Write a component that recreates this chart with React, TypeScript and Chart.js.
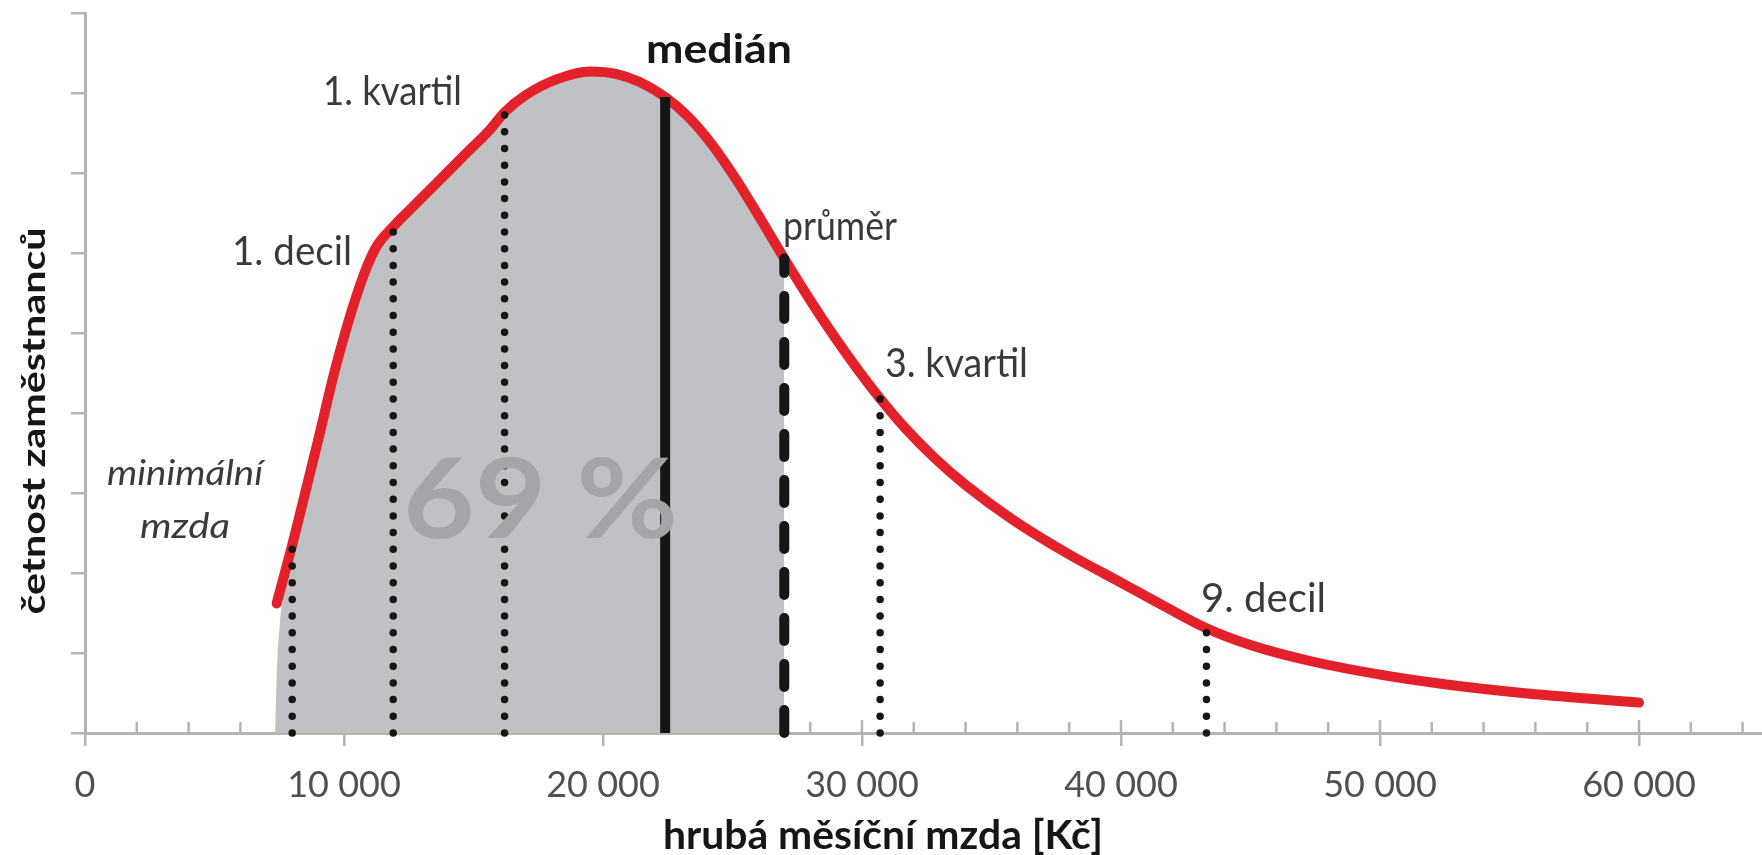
import React, { useEffect, useRef } from "react";
import { Chart, registerables } from "chart.js";

Chart.register(...registerables);

// ---- data ----
// gross monthly wage (Kč) and relative frequency of employees (arbitrary units 0..9)
const wage = [
  7400, 8000, 8500, 9000, 9700, 10600, 11200, 11900, 12600, 13500, 14700, 15600,
  16200, 17000, 18200, 19500, 20500, 21400, 22400, 23300, 24200, 25100, 26000,
  27000, 28000, 28900, 29800, 30700, 31700, 32800, 34000, 35800, 37900, 40000,
  41700, 43300, 45000, 47300, 50000, 52500, 55500, 58000, 60000,
];
const frequency = [
  1.62, 2.35, 3.0, 3.66, 4.6, 5.58, 6.05, 6.33, 6.56, 6.85, 7.24, 7.53,
  7.76, 7.97, 8.17, 8.27, 8.24, 8.14, 7.95, 7.7, 7.36, 6.94, 6.47,
  5.93, 5.41, 4.97, 4.56, 4.18, 3.8, 3.44, 3.1, 2.67, 2.25, 1.88,
  1.58, 1.31, 1.1, 0.9, 0.73, 0.61, 0.5, 0.43, 0.38,
];
// foot of the grey area below the start of the red curve
const fillFootWage = [7340, 7400, 7520, 7800];
const fillFootLevel = [0, 0.7, 1.35, 1.95];

// statistics marked with vertical lines
const markerNames = ["minimální mzda", "1. decil", "1. kvartil", "medián", "průměr", "3. kvartil", "9. decil"];
const markerWage = [8000, 11900, 16200, 22400, 27000, 30700, 43300];

const shareLabel = "69 %";

const tickValues = [0, 10000, 20000, 30000, 40000, 50000, 60000];
const tickLabels = ["0", "10 000", "20 000", "30 000", "40 000", "50 000", "60 000"];
const minorStep = 2000;
const axisMax = 64750;

const xTitle = "hrubá měsíční mzda [Kč]";
const yTitle = "četnost zaměstnanců";

// ---- styles ----
const AXIS = "#b4b4b4";
const RED = "#e3212b";
const GREY = "#c0c1c4";
const INK = "#161616";
const LABEL = "#3a3a3c";

function fitText(
  ctx: CanvasRenderingContext2D,
  text: string,
  x: number,
  y: number,
  width: number,
  align: "left" | "center",
  font: string,
  color: string
) {
  ctx.save();
  ctx.font = font;
  ctx.fillStyle = color;
  ctx.textBaseline = "alphabetic";
  ctx.textAlign = "left";
  const w = ctx.measureText(text).width || 1;
  const s = width / w;
  const left = align === "center" ? x - width / 2 : x;
  ctx.translate(left, y);
  ctx.scale(s, 1);
  ctx.fillText(text, 0, 0);
  ctx.restore();
}

export default function App() {
  const ref = useRef<HTMLCanvasElement | null>(null);

  useEffect(() => {
    document.body.style.margin = "0";
    const canvas = ref.current;
    if (!canvas) return;

    const curve = wage.map((x, i) => ({ x, y: frequency[i] }));
    const heightAt = (w: number) => frequency[wage.indexOf(w)];
    const meanWage = markerWage[markerNames.indexOf("průměr")];
    const fillPts = [
      ...fillFootWage.map((x, i) => ({ x, y: fillFootLevel[i] })),
      ...curve.filter((p) => p.x >= 8000 && p.x <= meanWage),
    ];

    const markerSets = markerWage.map((w, i) => {
      const name = markerNames[i];
      const kind = name === "medián" ? "solid" : name === "průměr" ? "dash" : "dot";
      return {
        label: name,
        data: [
          { x: w, y: 0 },
          { x: w, y: heightAt(w) },
        ],
        borderColor: INK,
        borderWidth: kind === "dot" ? 7.5 : 10,
        borderDash: kind === "dot" ? [0, 16.7] : kind === "dash" ? [23, 23] : [],
        borderCapStyle: kind === "solid" ? "butt" : "round",
        pointRadius: 0,
        fill: false,
        tension: 0,
        order: 0,
        clip: 8,
      };
    });

    const deco = {
      id: "deco",
      beforeDatasetsDraw(chart: any) {
        const ctx = chart.ctx as CanvasRenderingContext2D;
        const xs = chart.scales.x;
        const yBase = chart.chartArea.bottom;
        ctx.save();
        ctx.strokeStyle = AXIS;
        ctx.lineWidth = 2.5;
        xs.ticks.forEach((t: any) => {
          if (t.value <= 0) return;
          const px = xs.getPixelForValue(t.value);
          const major = tickValues.includes(t.value);
          ctx.beginPath();
          ctx.moveTo(px, yBase);
          ctx.lineTo(px, yBase - (major ? 13 : 11));
          ctx.stroke();
        });
        ctx.restore();
      },
      afterDatasetsDraw(chart: any) {
        const ctx = chart.ctx as CanvasRenderingContext2D;
        // big share label
        fitText(ctx, shareLabel, 403, 538, 275, "left", "bold 112px Lato", "#a4a5a8");

        const f = "40px Lato";
        const fb = "bold 40px Lato";
        const pos: Record<string, [number, number, number]> = {
          "1. decil": [232, 265, 120],
          "1. kvartil": [323, 105, 139],
          "medián": [646, 63, 146],
          "průměr": [783, 240, 114],
          "3. kvartil": [885, 377, 143],
          "9. decil": [1201, 612, 125],
        };
        markerNames.forEach((name) => {
          if (name === "minimální mzda") {
            const [a, b] = name.split(" ");
            fitText(ctx, a, 185, 485, 156, "center", "italic 34px Lato", LABEL);
            fitText(ctx, b, 185, 538, 90, "center", "italic 34px Lato", LABEL);
            return;
          }
          const p = pos[name];
          if (!p) return;
          const bold = name === "medián";
          fitText(ctx, name, p[0], p[1], p[2], "left", bold ? fb : f, bold ? INK : LABEL);
        });

        // axis titles
        fitText(ctx, xTitle, 883, 849, 440, "center", "bold 40px Lato", INK);
        ctx.save();
        ctx.translate(45, 421);
        ctx.rotate(-Math.PI / 2);
        fitText(ctx, yTitle, 0, 0, 387, "center", "bold 32px Lato", INK);
        ctx.restore();
      },
    };

    const chart = new Chart(canvas, {
      type: "line",
      data: {
        datasets: [
          ...markerSets,
          {
            label: "četnost",
            data: curve,
            borderColor: RED,
            borderWidth: 10,
            borderCapStyle: "round",
            borderJoinStyle: "round",
            cubicInterpolationMode: "monotone",
            pointRadius: 0,
            fill: false,
            order: 1,
            clip: 8,
          },
          {
            label: "69 %",
            data: fillPts,
            borderWidth: 0,
            borderColor: "rgba(0,0,0,0)",
            backgroundColor: GREY,
            cubicInterpolationMode: "monotone",
            pointRadius: 0,
            fill: "origin",
            order: 2,
          },
        ] as any,
      },
      options: {
        animation: false,
        responsive: false,
        devicePixelRatio: 1,
        layout: { autoPadding: false, padding: { top: 13, left: 0, right: 0, bottom: 0 } },
        plugins: {
          legend: { display: false },
          tooltip: { enabled: false },
        },
        events: [],
        scales: {
          x: {
            type: "linear",
            min: 0,
            max: axisMax,
            afterBuildTicks: (s: any) => {
              const t: any[] = [];
              for (let v = 0; v <= axisMax; v += minorStep) t.push({ value: v, major: false });
              s.ticks = t;
            },
            afterFit: (s: any) => {
              s.height = 122;
              s.paddingLeft = 0;
              s.paddingRight = 0;
            },
            border: { display: true, color: AXIS, width: 3 },
            grid: {
              drawOnChartArea: false,
              drawTicks: true,
              tickLength: 13,
              lineWidth: 2.5,
              color: (c: any) =>
                c.tick && tickValues.includes(c.tick.value) ? AXIS : "rgba(0,0,0,0)",
            },
            ticks: {
              autoSkip: false,
              maxRotation: 0,
              minRotation: 0,
              padding: 18,
              color: "#505053",
              font: { family: "Lato", size: 36 },
              callback: (v: any) => {
                const i = tickValues.indexOf(Number(v));
                return i >= 0 ? tickLabels[i] : "";
              },
            },
          },
          y: {
            type: "linear",
            min: 0,
            max: 9,
            afterFit: (s: any) => {
              s.width = 85;
            },
            border: { display: true, color: AXIS, width: 3 },
            grid: {
              drawOnChartArea: false,
              drawTicks: true,
              tickLength: 14,
              lineWidth: 2.5,
              color: AXIS,
            },
            ticks: { stepSize: 1, display: false },
          },
        },
      },
      plugins: [deco],
    } as any);

    return () => chart.destroy();
  }, []);

  return (
    <div style={{ width: 1762, height: 855, background: "#fff" }}>
      <canvas ref={ref} width={1762} height={855} style={{ display: "block" }} />
    </div>
  );
}
